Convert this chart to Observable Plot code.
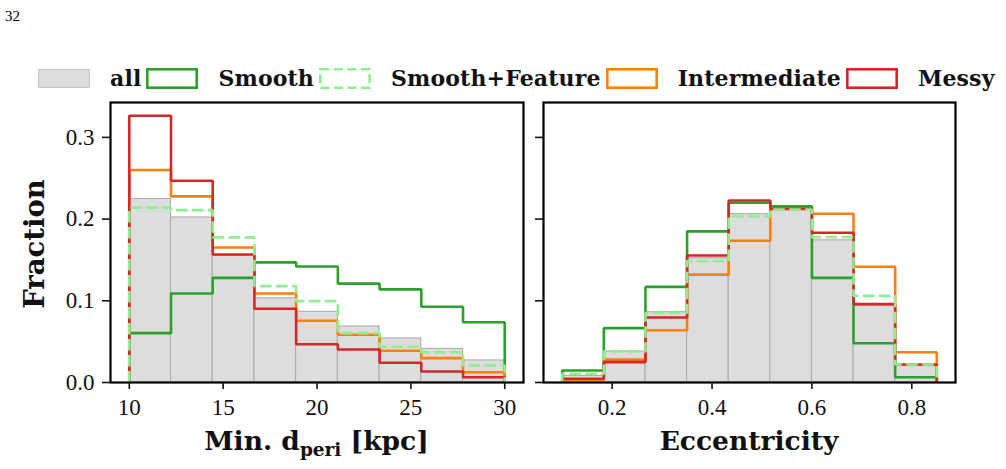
<!DOCTYPE html>
<html>
<head>
<meta charset="utf-8">
<script src="https://cdn.jsdelivr.net/npm/d3@7"></script>
<script src="https://cdn.jsdelivr.net/npm/@observablehq/plot@0.6"></script>
<style>
  html, body { margin: 0; padding: 0; background: #fff; }
  body { width: 1006px; height: 469px; position: relative; overflow: hidden; }
  #pagenum { position: absolute; left: 5px; top: 8px; font: 15px "Liberation Serif", serif; color: #000; }
  #legend { position: absolute; left: 38px; top: 66px; height: 24px; display: flex; align-items: center;
            font: bold 22px "DejaVu Serif", serif; letter-spacing: 0.15px; color: #111; white-space: nowrap; }
  #legend .sw { display: block; flex: none; }
  #legend .lab { margin-left: 20px; margin-right: 5px; line-height: 24px; }
  .panel { position: absolute; top: 90px; }
  .panel svg text { font-family: "Liberation Serif", serif; }
  .xlabel { position: absolute; top: 425px; text-align: center; font: bold 26.5px "DejaVu Serif", serif; color: #111; white-space: nowrap; }
  .xlabel sub { font-size: 18.5px; vertical-align: -6px; line-height: 0; }
  #ylabel { position: absolute; left: 34px; top: 244px; transform: translate(-50%, -50%) rotate(-90deg);
            font: bold 27.5px "DejaVu Serif", serif; color: #111; white-space: nowrap; }
</style>
</head>
<body>
<div id="pagenum">32</div>
<div id="legend"></div>
<div id="left" class="panel" style="left:0px"></div>
<div id="right" class="panel" style="left:530px"></div>
<div class="xlabel" style="left:110px;width:413px">Min. d<sub>peri</sub> [kpc]</div>
<div class="xlabel" style="left:543px;width:412px">Eccentricity</div>
<div id="ylabel">Fraction</div>
<script>
// Histogram fractions per morphology class, 9 equal-width bins per quantity
const groups = ["all", "Smooth", "Smooth+Feature", "Intermediate", "Messy"];
const nBins = 9;

// minimum pericentre distance [kpc]
const dperiRange = [10, 30];
const dperiTicks = [10, 15, 20, 25, 30];
const dperiAll            = [0.2245, 0.202, 0.155, 0.103, 0.0865, 0.0686, 0.0539, 0.0412, 0.027];
const dperiSmooth         = [0.0604, 0.109, 0.128, 0.147, 0.142, 0.121, 0.114, 0.0927, 0.0738];
const dperiSmoothFeature  = [0.214, 0.211, 0.1776, 0.118, 0.0996, 0.0604, 0.0437, 0.037, 0.0208];
const dperiIntermediate   = [0.26, 0.2278, 0.1653, 0.109, 0.0755, 0.0584, 0.0388, 0.0298, 0.0126];
const dperiMessy          = [0.3265, 0.247, 0.1567, 0.0902, 0.0469, 0.0404, 0.0241, 0.0135, 0.0065];

// orbital eccentricity
const eccRange = [0.1, 0.85];
const eccTicks = [0.2, 0.4, 0.6, 0.8];
const eccAll              = [0.008, 0.038, 0.086, 0.152, 0.206, 0.213, 0.174, 0.0935, 0.02];
const eccSmooth           = [0.0147, 0.0665, 0.117, 0.185, 0.22, 0.2158, 0.128, 0.048, 0.0065];
const eccSmoothFeature    = [0.0106, 0.038, 0.085, 0.1486, 0.2032, 0.2117, 0.1779, 0.106, 0.022];
const eccIntermediate     = [0.003, 0.028, 0.064, 0.132, 0.1735, 0.213, 0.2065, 0.1416, 0.037];
const eccMessy            = [0.0045, 0.0249, 0.0796, 0.1555, 0.2228, 0.2125, 0.1832, 0.0959, 0.022];

const yTicks = [0, 0.1, 0.2, 0.3];
const yMax = 0.3427;

const colors = {
  "all": "#dddddd",
  "Smooth": "#2ca02c",
  "Smooth+Feature": "#90ee90",
  "Intermediate": "#ff7f0e",
  "Messy": "#d62728"
};
const dashes = { "Smooth+Feature": "11.5,4.5" };
// step outlines are stacked in this order (dashed outline last)
const drawOrder = ["Smooth", "Intermediate", "Messy", "Smooth+Feature"];
const tickFont = "'Liberation Serif', serif";

function binEdges([lo, hi]) {
  return d3.range(nBins + 1).map(i => lo + i * (hi - lo) / nBins);
}

function stepPoints(edges, values) {
  return [{x: edges[0], y: 0}]
    .concat(values.map((v, i) => ({x: edges[i], y: v})))
    .concat([{x: edges[nBins], y: 0}]);
}

function panel({range, ticks, series, width, marginLeft, marginRight, yLabels}) {
  const edges = binEdges(range);
  const pad = (range[1] - range[0]) * 0.05;
  const bars = series.all.map((v, i) => ({x1: edges[i], x2: edges[i + 1], y: v}));
  const lines = drawOrder.map(g => Plot.line(stepPoints(edges, series[g]), {
    x: "x", y: "y", curve: "step-after",
    stroke: colors[g], strokeWidth: 2.6,
    strokeDasharray: dashes[g], strokeLinejoin: "miter", strokeLinecap: "butt"
  }));
  return Plot.plot({
    width, height: 379,
    marginTop: 12, marginBottom: 87, marginLeft, marginRight,
    style: {fontFamily: tickFont, fontSize: "23px", color: "#111", background: "transparent"},
    x: {domain: [range[0] - pad, range[1] + pad], label: null},
    y: {domain: [0, yMax], label: null},
    marks: [
      Plot.rectY(bars, {x1: "x1", x2: "x2", y: "y", fill: colors.all, stroke: "#a9a9a9", strokeWidth: 1, insetLeft: 0, insetRight: 0}),
      ...lines,
      Plot.frame({stroke: "#000", strokeWidth: 2.2}),
      Plot.axisX({ticks, tickSize: 7, tickPadding: 9, strokeWidth: 1.6, label: null,
                  fontFamily: tickFont, fontSize: 23,
                  tickFormat: range[1] > 1 ? d3.format("d") : d3.format(".1f")}),
      Plot.axisY({ticks: yTicks, tickSize: 8, tickPadding: 8, strokeWidth: 1.6, label: null,
                  fontFamily: tickFont, fontSize: 23,
                  tickFormat: yLabels ? d3.format(".1f") : () => ""})
    ]
  });
}

document.getElementById("left").append(panel({
  range: dperiRange, ticks: dperiTicks,
  series: {"all": dperiAll, "Smooth": dperiSmooth, "Smooth+Feature": dperiSmoothFeature,
           "Intermediate": dperiIntermediate, "Messy": dperiMessy},
  width: 530, marginLeft: 110, marginRight: 7, yLabels: true
}));

document.getElementById("right").append(panel({
  range: eccRange, ticks: eccTicks,
  series: {"all": eccAll, "Smooth": eccSmooth, "Smooth+Feature": eccSmoothFeature,
           "Intermediate": eccIntermediate, "Messy": eccMessy},
  width: 476, marginLeft: 13, marginRight: 51, yLabels: false
}));

// legend: filled patch for "all", outlined boxes for the classes
const legend = d3.select("#legend");
groups.forEach(g => {
  const svg = legend.append("svg").attr("class", "sw").attr("width", 52).attr("height", 21);
  if (g === "all") {
    svg.append("rect").attr("x", 0.5).attr("y", 1.5).attr("width", 51).attr("height", 18)
      .attr("fill", colors.all).attr("stroke", "#c4c4c4").attr("stroke-width", 1);
  } else {
    svg.append("rect").attr("x", 1.3).attr("y", 1.3).attr("width", 49.4).attr("height", 18.4)
      .attr("fill", "none").attr("stroke", colors[g]).attr("stroke-width", 2.6)
      .attr("stroke-dasharray", dashes[g] ? "9,4.5" : null);
  }
  legend.append("span").attr("class", "lab").text(g);
});
</script>
</body>
</html>
